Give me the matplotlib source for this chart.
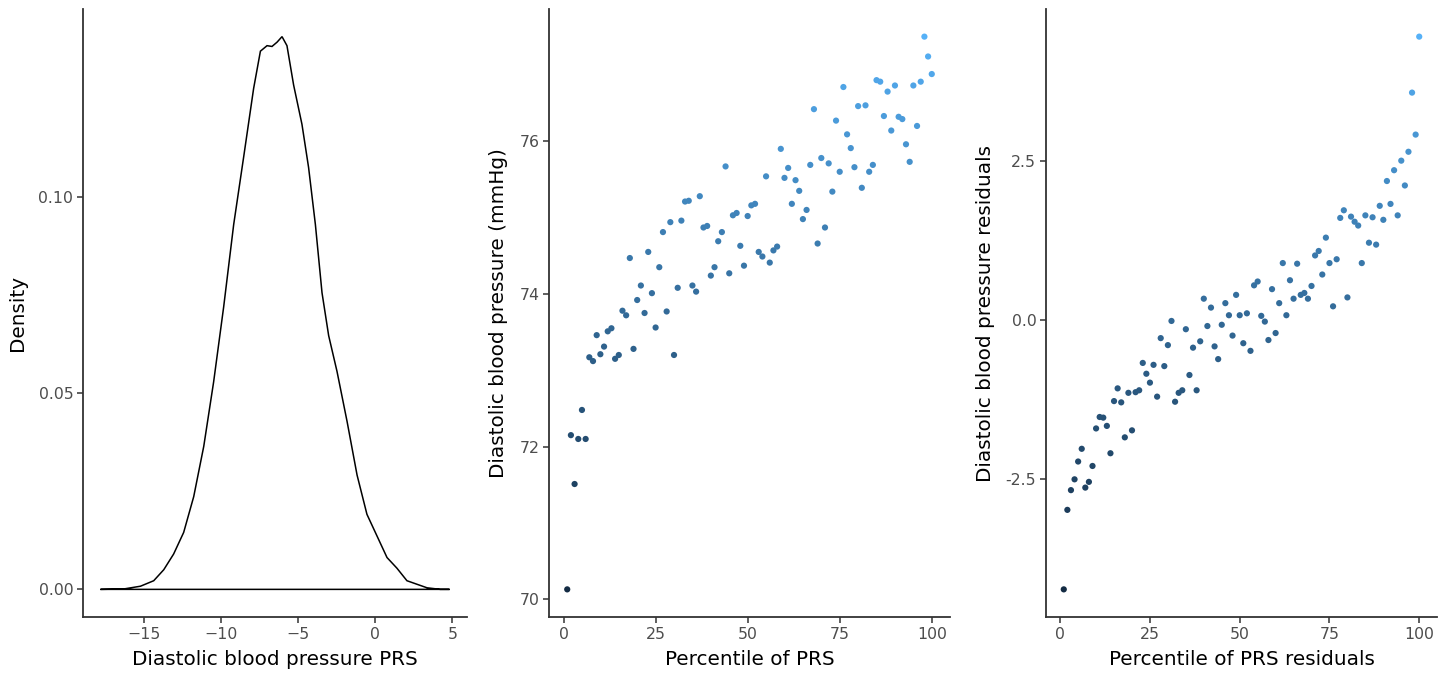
import numpy as np
import matplotlib
matplotlib.use("Agg")
import matplotlib.pyplot as plt
from matplotlib.colors import LinearSegmentedColormap, to_rgb

# %% Daten

# Dichtekurve des PRS
prs_x = [-17.8, -16.29, -15.21, -14.35, -13.70, -13.06, -12.41, -11.76, -11.11, -10.47,
         -9.82, -9.17, -8.52, -7.88, -7.44, -7.01, -6.69, -6.36, -6.04, -5.72,
         -5.29, -4.75, -4.32, -3.88, -3.45, -3.02, -2.48, -1.83, -1.18, -0.54,
         0.11, 0.76, 1.40, 2.05, 2.70, 3.35, 4.21, 4.81]
prs_dens = [0.0, 0.0001, 0.0008, 0.0022, 0.0050, 0.0090, 0.0145, 0.0236, 0.0364, 0.0528,
            0.0719, 0.0929, 0.1102, 0.1275, 0.1370, 0.1384, 0.1382, 0.1393, 0.1407, 0.1384,
            0.1284, 0.1184, 0.1074, 0.0929, 0.0755, 0.0646, 0.0555, 0.0428, 0.0291, 0.0191,
            0.0136, 0.0081, 0.0054, 0.0022, 0.0013, 0.0004, 0.0, 0.0]

percentile = list(range(1, 101))

dbp = [70.13, 72.15, 71.51, 72.10, 72.48, 72.10, 73.17, 73.12, 73.46, 73.21,
       73.31, 73.51, 73.55, 73.15, 73.20, 73.78, 73.72, 74.47, 73.28, 73.92,
       74.11, 73.75, 74.55, 74.01, 73.56, 74.35, 74.81, 73.77, 74.94, 73.20,
       74.08, 74.96, 75.21, 75.22, 74.11, 74.03, 75.28, 74.87, 74.89, 74.24,
       74.35, 74.69, 74.81, 75.67, 74.27, 75.03, 75.06, 74.63, 74.37, 75.02,
       75.16, 75.18, 74.55, 74.49, 75.54, 74.41, 74.57, 74.62, 75.90, 75.52,
       75.65, 75.18, 75.49, 75.35, 74.98, 75.10, 75.69, 76.42, 74.66, 75.78,
       74.87, 75.71, 75.34, 76.27, 75.60, 76.71, 76.09, 75.91, 75.66, 76.46,
       75.39, 76.47, 75.60, 75.69, 76.80, 76.78, 76.33, 76.65, 76.14, 76.73,
       76.32, 76.29, 75.96, 75.73, 76.73, 76.20, 76.78, 77.37, 77.11, 76.88]

dbp_resid = [-4.23, -2.98, -2.67, -2.50, -2.22, -2.02, -2.63, -2.54, -2.29, -1.70,
             -1.52, -1.53, -1.66, -2.09, -1.27, -1.07, -1.29, -1.84, -1.14, -1.73,
             -1.13, -1.10, -0.67, -0.84, -0.98, -0.70, -1.20, -0.28, -0.72, -0.39,
             -0.01, -1.28, -1.14, -1.10, -0.14, -0.86, -0.43, -1.10, -0.33, 0.34,
             -0.09, 0.20, -0.41, -0.61, -0.07, 0.27, 0.08, -0.24, 0.40, 0.08,
             -0.36, 0.11, -0.48, 0.55, 0.61, 0.07, -0.02, -0.31, 0.49, -0.20,
             0.27, 0.90, 0.08, 0.63, 0.34, 0.89, 0.40, 0.43, 0.34, 0.54,
             1.02, 1.09, 0.72, 1.30, 0.90, 0.22, 0.96, 1.61, 1.73, 0.36,
             1.63, 1.55, 1.49, 0.90, 1.65, 1.22, 1.62, 1.19, 1.80, 1.58,
             2.19, 1.83, 2.36, 1.65, 2.51, 2.12, 2.65, 3.58, 2.92, 4.46]


# %% Farbverlauf wie ggplot (Interpolation im Lab-Raum)

M = np.array([[0.4124, 0.3576, 0.1805],
              [0.2126, 0.7152, 0.0722],
              [0.0193, 0.1192, 0.9505]])
WP = np.array([0.95047, 1.0, 1.08883])


def rgb_zu_lab(rgb):
    c = np.array(rgb)
    lin = np.where(c <= 0.04045, c / 12.92, ((c + 0.055) / 1.055) ** 2.4)
    t = M @ lin / WP
    f = np.where(t > 0.008856, np.cbrt(t), 7.787 * t + 16 / 116)
    return np.array([116 * f[1] - 16, 500 * (f[0] - f[1]), 200 * (f[1] - f[2])])


def lab_zu_rgb(lab):
    fy = (lab[0] + 16) / 116
    f = np.array([fy + lab[1] / 500, fy, fy - lab[2] / 200])
    t = np.where(f ** 3 > 0.008856, f ** 3, (f - 16 / 116) / 7.787) * WP
    lin = np.linalg.solve(M, t)
    c = np.where(lin <= 0.0031308, 12.92 * lin, 1.055 * np.abs(lin) ** (1 / 2.4) - 0.055)
    return np.clip(c, 0, 1)


lab_lo = rgb_zu_lab(to_rgb("#132B43"))
lab_hi = rgb_zu_lab(to_rgb("#56B1F7"))
stufen = [lab_zu_rgb(lab_lo + (lab_hi - lab_lo) * t) for t in np.linspace(0, 1, 21)]
cmap = LinearSegmentedColormap.from_list("gg", stufen)


# %% Stil

plt.rcParams["font.family"] = "DejaVu Sans"
W, H = 1448, 677
fig = plt.figure(figsize=(W / 100, H / 100), dpi=100)


def achse(x0, x1, y0=9, y1=617):
    ax = fig.add_axes([x0 / W, (H - y1) / H, (x1 - x0) / W, (y1 - y0) / H])
    for s in ["top", "right"]:
        ax.spines[s].set_visible(False)
    for s in ["left", "bottom"]:
        ax.spines[s].set_linewidth(1.3)
        ax.spines[s].set_color("#333333")
    ax.tick_params(length=4, width=1.1, color="#333333", labelsize=11.3,
                   labelcolor="#4D4D4D", pad=3)
    return ax


def ausdehnen(werte):
    lo, hi = min(werte), max(werte)
    d = (hi - lo) * 0.05
    return lo - d, hi + d


# %% Panel 1: Dichte

ax1 = achse(83, 467)
ax1.fill(prs_x, prs_dens, facecolor="none", edgecolor="black", linewidth=1.1)
ax1.set_xlim(*ausdehnen(prs_x))
ax1.set_ylim(*ausdehnen(prs_dens))
ax1.set_xticks([-15, -10, -5, 0, 5])
ax1.set_yticks([0.0, 0.05, 0.10])
ax1.set_yticklabels(["0.00", "0.05", "0.10"])
ax1.set_xlabel("Diastolic blood pressure PRS", fontsize=14.4, labelpad=6)
ax1.set_ylabel("Density", fontsize=14.4, labelpad=8)

# %% Panel 2: Blutdruck vs. Perzentil

ax2 = achse(549, 950)
ax2.scatter(percentile, dbp, c=dbp, cmap=cmap, s=20, linewidths=0)
ax2.set_xlim(*ausdehnen(percentile))
ax2.set_ylim(*ausdehnen(dbp))
ax2.set_xticks([0, 25, 50, 75, 100])
ax2.set_yticks([70, 72, 74, 76])
ax2.set_xlabel("Percentile of PRS", fontsize=14.4, labelpad=6)
ax2.set_ylabel("Diastolic blood pressure (mmHg)", fontsize=14.4, labelpad=8)

# %% Panel 3: Residuen

ax3 = achse(1046, 1437)
ax3.scatter(percentile, dbp_resid, c=dbp_resid, cmap=cmap, s=20, linewidths=0)
ax3.set_xlim(*ausdehnen(percentile))
ax3.set_ylim(*ausdehnen(dbp_resid))
ax3.set_xticks([0, 25, 50, 75, 100])
ax3.set_yticks([-2.5, 0.0, 2.5])
ax3.set_yticklabels(["-2.5", "0.0", "2.5"])
ax3.set_xlabel("Percentile of PRS residuals", fontsize=14.4, labelpad=6)
ax3.set_ylabel("Diastolic blood pressure residuals", fontsize=14.4, labelpad=8)

fig.savefig("out.png", dpi=100)
